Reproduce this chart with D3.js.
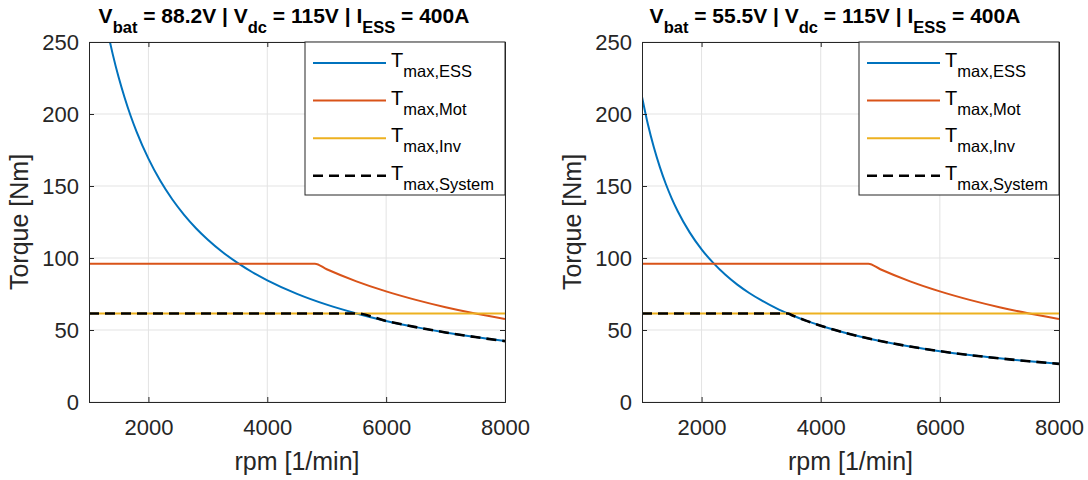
<!DOCTYPE html>
<html>
<head>
<meta charset="utf-8">
<script src="https://cdn.jsdelivr.net/npm/d3@7"></script>
<style>
  html, body { margin: 0; padding: 0; background: #fff; }
  svg { display: block; font-family: "Liberation Sans", Arial, Helvetica, sans-serif; }
</style>
</head>
<body>
<svg id="chart" width="1088" height="480"></svg>
<script>
// Axis ticks
const rpmTicks = [2000, 4000, 6000, 8000];
const torqueTicks = [0, 50, 100, 150, 200, 250];

// Left panel: V_bat = 88.2 V
const essRpmA = [1350, 1400, 1500, 1600, 1700, 1800, 2000, 2200, 2400, 2600, 2800, 3000, 3250, 3500, 3750, 4000, 4500, 5000, 5500, 6000, 6500, 7000, 7500, 8000];
const essTorqueA = [250.4, 241.4, 225.3, 211.3, 198.8, 187.8, 169.0, 153.6, 140.8, 130.0, 120.7, 112.7, 104.0, 96.6, 90.1, 84.5, 75.1, 67.6, 61.5, 56.3, 52.0, 48.3, 45.1, 42.3];
const sysRpmA = [1000, 5500, 6000, 6500, 7000, 7500, 8000];
const sysTorqueA = [61.5, 61.5, 56.3, 52.0, 48.3, 45.1, 42.3];

// Right panel: V_bat = 55.5 V
const essRpmB = [1000, 1100, 1200, 1300, 1400, 1500, 1600, 1800, 2000, 2200, 2400, 2600, 2800, 3000, 3250, 3500, 3750, 4000, 4500, 5000, 5500, 6000, 6500, 7000, 7500, 8000];
const essTorqueB = [212.0, 192.7, 176.7, 163.1, 151.4, 141.3, 132.5, 117.8, 106.0, 96.4, 88.3, 81.5, 75.7, 70.7, 65.2, 60.6, 56.5, 53.0, 47.1, 42.4, 38.5, 35.3, 32.6, 30.3, 28.3, 26.5];
const sysRpmB = [1000, 3450, 3500, 3750, 4000, 4500, 5000, 5500, 6000, 6500, 7000, 7500, 8000];
const sysTorqueB = [61.5, 61.5, 60.6, 56.5, 53.0, 47.1, 42.4, 38.5, 35.3, 32.6, 30.3, 28.3, 26.5];

// Shared motor and inverter limits
const motRpm = [1000, 4800, 5000, 5500, 6000, 6500, 7000, 7500, 8000];
const motTorque = [96, 96, 92.2, 83.8, 76.8, 70.9, 65.8, 61.4, 57.6];
const invRpm = [1000, 8000];
const invTorque = [61.5, 61.5];

// Titles: [text, kind] pieces
const titleA = [["V", ""], ["bat", "sub"], [" = 88.2V | V", ""], ["dc", "sub"], [" = 115V | I", ""], ["ESS", "sub"], [" = 400A", ""]];
const titleB = [["V", ""], ["bat", "sub"], [" = 55.5V | V", ""], ["dc", "sub"], [" = 115V | I", ""], ["ESS", "sub"], [" = 400A", ""]];

const legendNames = ["ESS", "Mot", "Inv", "System"];
const colors = ["#0072BD", "#D95319", "#EDB120", "#000000"];

const zip = (xs, ys) => xs.map((x, i) => [x, ys[i]]);

const panels = [
  { left: 89, right: 505, title: titleA, titleX: 284,
    series: [zip(essRpmA, essTorqueA), zip(motRpm, motTorque), zip(invRpm, invTorque), zip(sysRpmA, sysTorqueA)] },
  { left: 642, right: 1059, title: titleB, titleX: 835,
    series: [zip(essRpmB, essTorqueB), zip(motRpm, motTorque), zip(invRpm, invTorque), zip(sysRpmB, sysTorqueB)] }
];

const plotTop = 42, plotBottom = 402;
const axisColor = "#262626";
const svg = d3.select("#chart");

panels.forEach((p, pi) => {
  const x = d3.scaleLinear().domain([1000, 8000]).range([p.left, p.right]);
  const y = d3.scaleLinear().domain([0, 250]).range([plotBottom, plotTop]);
  const g = svg.append("g");

  // grid
  g.append("g").selectAll("line").data(rpmTicks).join("line")
    .attr("x1", d => x(d)).attr("x2", d => x(d)).attr("y1", plotTop).attr("y2", plotBottom)
    .attr("stroke", "#e3e3e3").attr("stroke-width", 1);
  g.append("g").selectAll("line").data(torqueTicks).join("line")
    .attr("x1", p.left).attr("x2", p.right).attr("y1", d => y(d)).attr("y2", d => y(d))
    .attr("stroke", "#e3e3e3").attr("stroke-width", 1);

  // clip for data
  const clipId = "clip" + pi;
  svg.append("defs").append("clipPath").attr("id", clipId)
    .append("rect").attr("x", p.left).attr("y", plotTop).attr("width", p.right - p.left).attr("height", plotBottom - plotTop);

  const line = d3.line().x(d => x(d[0])).y(d => y(d[1])).curve(d3.curveMonotoneX);
  const dataG = g.append("g").attr("clip-path", `url(#${clipId})`);
  p.series.forEach((s, i) => {
    dataG.append("path").datum(s)
      .attr("d", line)
      .attr("fill", "none")
      .attr("stroke", colors[i])
      .attr("stroke-width", i === 3 ? 2.6 : 2)
      .attr("stroke-dasharray", i === 3 ? "10,6" : null);
  });

  // axes (ticks inward, boxed with mirrored ticks)
  const tickLen = 5;
  const bottomAxis = d3.axisBottom(x).tickValues(rpmTicks).tickSize(-tickLen).tickPadding(17).tickFormat(d3.format("d"));
  const leftAxis = d3.axisLeft(y).tickValues(torqueTicks).tickSize(-tickLen).tickPadding(10).tickFormat(d3.format("d"));
  const topAxis = d3.axisTop(x).tickValues(rpmTicks).tickSize(-tickLen).tickFormat("");
  const rightAxis = d3.axisRight(y).tickValues(torqueTicks).tickSize(-tickLen).tickFormat("");

  const styleAxis = sel => {
    sel.attr("font-family", null).attr("font-size", null);
    sel.selectAll("path.domain").attr("stroke", axisColor).attr("stroke-width", 1);
    sel.selectAll(".tick line").attr("stroke", axisColor).attr("stroke-width", 1);
    sel.selectAll(".tick text").attr("fill", axisColor).attr("font-size", 22);
  };
  g.append("g").attr("transform", `translate(0,${plotBottom})`).call(bottomAxis).call(styleAxis);
  g.append("g").attr("transform", `translate(${p.left},0)`).call(leftAxis).call(styleAxis);
  g.append("g").attr("transform", `translate(0,${plotTop})`).call(topAxis).call(styleAxis);
  g.append("g").attr("transform", `translate(${p.right},0)`).call(rightAxis).call(styleAxis);

  // axis labels
  g.append("text").attr("x", (p.left + p.right) / 2).attr("y", 470)
    .attr("text-anchor", "middle").attr("font-size", 25).attr("fill", axisColor)
    .text("rpm [1/min]");
  g.append("text")
    .attr("transform", `translate(${p.left - 61},${(plotTop + plotBottom) / 2}) rotate(-90)`)
    .attr("text-anchor", "middle").attr("font-size", 25).attr("fill", axisColor)
    .text("Torque [Nm]");

  // title with subscripts
  const t = g.append("text").attr("x", p.titleX).attr("y", 23)
    .attr("text-anchor", "middle").attr("font-size", 21).attr("font-weight", "bold").attr("fill", "#000");
  let shifted = false;
  p.title.forEach(([txt, kind]) => {
    const ts = t.append("tspan").text(txt);
    if (kind === "sub") {
      ts.attr("font-size", 16.5).attr("dy", shifted ? 0 : 10);
      shifted = true;
    } else {
      ts.attr("dy", shifted ? -10 : 0);
      shifted = false;
    }
  });

  // legend
  const lgW = 200, lgH = 153;
  const lg = g.append("g").attr("transform", `translate(${p.right - lgW},${plotTop})`);
  lg.append("rect").attr("x", 0).attr("y", 0).attr("width", lgW).attr("height", lgH)
    .attr("fill", "#fff").attr("stroke", axisColor).attr("stroke-width", 1);
  legendNames.forEach((name, i) => {
    const ly = 21 + i * 37.6;
    lg.append("line").attr("x1", 8).attr("x2", 81).attr("y1", ly).attr("y2", ly)
      .attr("stroke", colors[i]).attr("stroke-width", i === 3 ? 2.6 : 2)
      .attr("stroke-dasharray", i === 3 ? "10,6" : null);
    const lt = lg.append("text").attr("x", 86).attr("y", ly + 4).attr("font-size", 20).attr("fill", "#000");
    lt.append("tspan").text("T");
    lt.append("tspan").attr("dy", 10).attr("font-size", 16.5).text("max," + name);
  });
});
</script>
</body>
</html>
